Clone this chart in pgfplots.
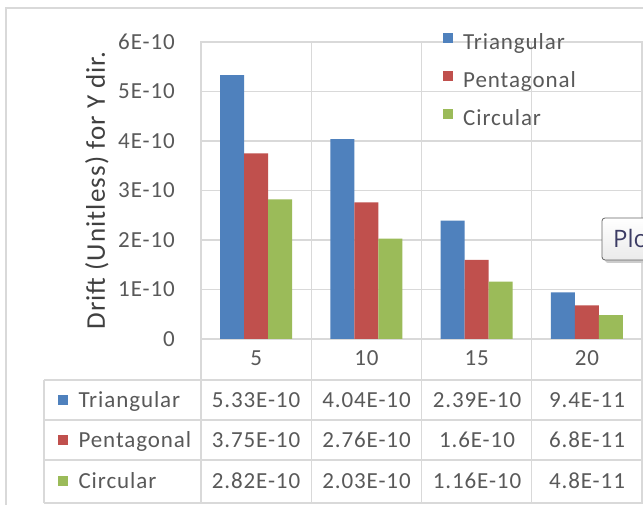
\documentclass[border=0pt]{standalone}
\usepackage{pgfplots}
\pgfplotsset{compat=1.18}
\usepackage{fontspec}
\setmainfont[LetterSpace=4]{Carlito}
\newfontfamily\tipfont{Open Sans}
\definecolor{tri}{HTML}{4F81BD}
\definecolor{pen}{HTML}{C0504D}
\definecolor{cir}{HTML}{9BBB59}
\definecolor{gridc}{HTML}{D9D9D9}
\definecolor{txt}{HTML}{595959}
\definecolor{ttl}{HTML}{404040}
\definecolor{tipc}{HTML}{3C3C64}
\newcommand{\tfont}{\fontsize{23}{27}\selectfont}
\begin{document}
\begin{tikzpicture}[x=1pt,y=1pt]
\useasboundingbox (0,0) rectangle (643,505);
\clip (0,0) rectangle (643,505);
\fill[white] (0,0) rectangle (643,505);
\draw[gridc, line width=1.2pt] (6,-10) -- (6,497) -- (700,497);
\begin{axis}[
  at={(201pt,166pt)}, anchor=south west,
  scale only axis, width=441pt, height=297pt,
  xmin=-0.5, xmax=3.5, ymin=0, ymax=6e-10,
  xtick={0,1,2,3}, xticklabels={5,10,15,20},
  minor xtick={-0.5,0.5,1.5,2.5,3.5},
  xminorgrids, ymajorgrids,
  ytick={0,1e-10,2e-10,3e-10,4e-10,5e-10,6e-10},
  yticklabels={0,1E-10,2E-10,3E-10,4E-10,5E-10,6E-10},
  scaled y ticks=false,
  major tick length=0pt, minor tick length=0pt,
  axis line style={draw=gridc, line width=1.3pt},
  grid style={draw=gridc, line width=1.3pt},
  minor grid style={draw=gridc, line width=1.3pt},
  /pgf/number format/assume math mode=true,
  ticklabel style={font=\tfont, text=txt},
  yticklabel style={anchor=east, inner sep=0pt, xshift=-26pt},
  xticklabel style={anchor=center, inner sep=0pt, yshift=-19pt},
  ylabel={Drift (Unitless) for Y dir.},
  ylabel style={at={(axis description cs:-0.236,0.5)}, anchor=center, font=\fontsize{27}{32}\selectfont, text=ttl},
  ybar=0pt, bar width=24pt,
  clip=false,
  legend cell align=left,
  legend image code/.code={\fill[#1] (0pt,1pt) rectangle (10pt,11pt);},
  legend style={at={(axis description cs:0.5488,1.032)}, anchor=north west,
    draw=none, fill=none, font=\tfont, text=txt, inner sep=0pt, row sep=16pt,
    nodes={inner sep=0pt, text height=17pt, text depth=5pt},
    /tikz/every odd column/.append style={column sep=10pt}},
]
\addplot[fill=tri, draw=none] coordinates {(0,5.33e-10) (1,4.04e-10) (2,2.39e-10) (3,9.4e-11)};
\addlegendentry{Triangular}
\addplot[fill=pen, draw=none] coordinates {(0,3.75e-10) (1,2.76e-10) (2,1.6e-10) (3,6.8e-11)};
\addlegendentry{Pentagonal}
\addplot[fill=cir, draw=none] coordinates {(0,2.82e-10) (1,2.03e-10) (2,1.16e-10) (3,4.8e-11)};
\addlegendentry{Circular}
\end{axis}
% data table grid
\begin{scope}[gridc, line width=1.3pt]
\draw (44,125) -- (700,125);
\draw (44,85) -- (700,85);
\draw (44,45) -- (700,45);
\draw (44,2) -- (700,2);
\draw (44,125) -- (44,2);
\foreach \xx in {201,311.25,421.5,531.75,642} \draw (\xx,166) -- (\xx,2);
\end{scope}
% data table text
\begin{scope}[font=\tfont, text=txt]
\node[anchor=base west] at (54,97.6) {\textcolor{tri}{\raisebox{2.5pt}{\rule{10pt}{10pt}}}\hspace{11pt}Triangular};
\node[anchor=base west] at (54,57.6) {\textcolor{pen}{\raisebox{2.5pt}{\rule{10pt}{10pt}}}\hspace{11pt}Pentagonal};
\node[anchor=base west] at (54,16.1) {\textcolor{cir}{\raisebox{2.5pt}{\rule{10pt}{10pt}}}\hspace{11pt}Circular};
\node[anchor=base] at (256,97.6) {5.33E-10};
\node[anchor=base] at (366.5,97.6) {4.04E-10};
\node[anchor=base] at (477,97.6) {2.39E-10};
\node[anchor=base] at (587,97.6) {9.4E-11};
\node[anchor=base] at (256,57.6) {3.75E-10};
\node[anchor=base] at (366.5,57.6) {2.76E-10};
\node[anchor=base] at (477,57.6) {1.6E-10};
\node[anchor=base] at (587,57.6) {6.8E-11};
\node[anchor=base] at (256,16.1) {2.82E-10};
\node[anchor=base] at (366.5,16.1) {2.03E-10};
\node[anchor=base] at (477,16.1) {1.16E-10};
\node[anchor=base] at (587,16.1) {4.8E-11};
\end{scope}
% tooltip
\fill[black!20, rounded corners=3pt] (605,284) rectangle (720,242);
\draw[rounded corners=3pt, draw=black!60, top color=white, bottom color=black!8, line width=0.8pt] (602,287) rectangle (720,245);
\node[anchor=west, inner sep=0pt, text=tipc, font=\tipfont\fontsize{24}{28}\selectfont] at (613,266) {Plot Area};
\end{tikzpicture}
\end{document}
